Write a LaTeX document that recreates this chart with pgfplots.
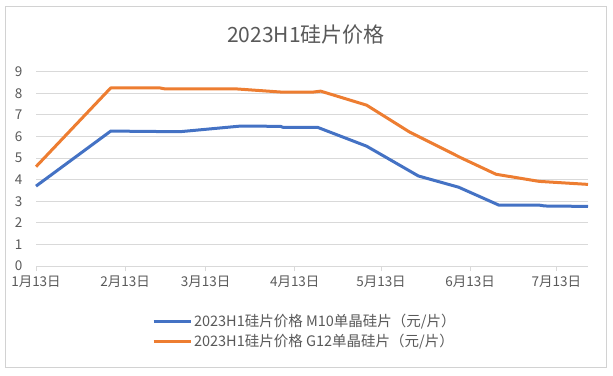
\documentclass[border=0pt]{standalone}
\usepackage{fontspec}
\setmainfont{Noto Sans CJK SC}
\usepackage{pgfplots}
\pgfplotsset{compat=1.18}
\definecolor{sblue}{HTML}{4472C4}
\definecolor{sorange}{HTML}{ED7D31}
\definecolor{txtgray}{HTML}{595959}
\definecolor{gridgray}{HTML}{D9D9D9}
\begin{document}
\begin{tikzpicture}[x=1pt,y=1pt]
\path[use as bounding box] (0,0) rectangle (613,375);
\draw[draw=gray!35, line width=1pt] (5,8) rectangle (606,368);
\node[text=txtgray, font=\fontsize{21}{24}\selectfont] at (306,340) {2023H1硅片价格};
\begin{axis}[
  at={(36pt,109pt)}, anchor=south west,
  scale only axis, width=552pt, height=194.3pt,
  xmin=0, xmax=192, ymin=0, ymax=9,
  axis x line*=bottom, axis y line*=left,
  x axis line style={draw=gridgray, line width=1pt},
  y axis line style={draw=none},
  ytick={0,1,...,9},
  xtick={0,31,59,90,120,151,181},
  xticklabels={1月13日,2月13日,3月13日,4月13日,5月13日,6月13日,7月13日},
  ymajorgrids, grid style={gridgray, line width=0.9pt},
  tick align=outside,
  x tick style={draw=gridgray, line width=1pt},
  major tick length=5pt,
  y tick style={draw=none},
  /pgf/number format/assume math mode=true,
  tick label style={text=txtgray, font=\fontsize{13.5}{15}\selectfont},
  yticklabel style={xshift=-5pt},
  xticklabel style={yshift=-1pt},
  legend style={at={(0.487,-0.335)}, anchor=center, draw=none, fill=none,
    font=\fontsize{14.5}{16}\selectfont, text=txtgray, row sep=2pt,
    legend cell align=left},
  legend image code/.code={\draw[#1] (0pt,0pt) -- (37pt,0pt);},
  clip=false,
]
\addplot[sblue, line width=3pt, line join=round] coordinates {
(0,3.7) (26,6.25) (50,6.22) (71,6.48) (85,6.47) (86,6.42) (98,6.42)
(115,5.55) (133,4.17) (147,3.65) (161,2.82) (175,2.82) (177,2.78) (192,2.76)};
\addlegendentry{2023H1硅片价格 M10单晶硅片（元/片）}
\addplot[sorange, line width=3pt, line join=round] coordinates {
(0,4.6) (26,8.25) (43,8.25) (45,8.2) (70,8.2) (86,8.05) (96,8.05) (99,8.1)
(115,7.45) (130,6.2) (148,5.0) (160,4.25) (175,3.92) (192,3.78)};
\addlegendentry{2023H1硅片价格 G12单晶硅片（元/片）}
\end{axis}
\end{tikzpicture}
\end{document}
